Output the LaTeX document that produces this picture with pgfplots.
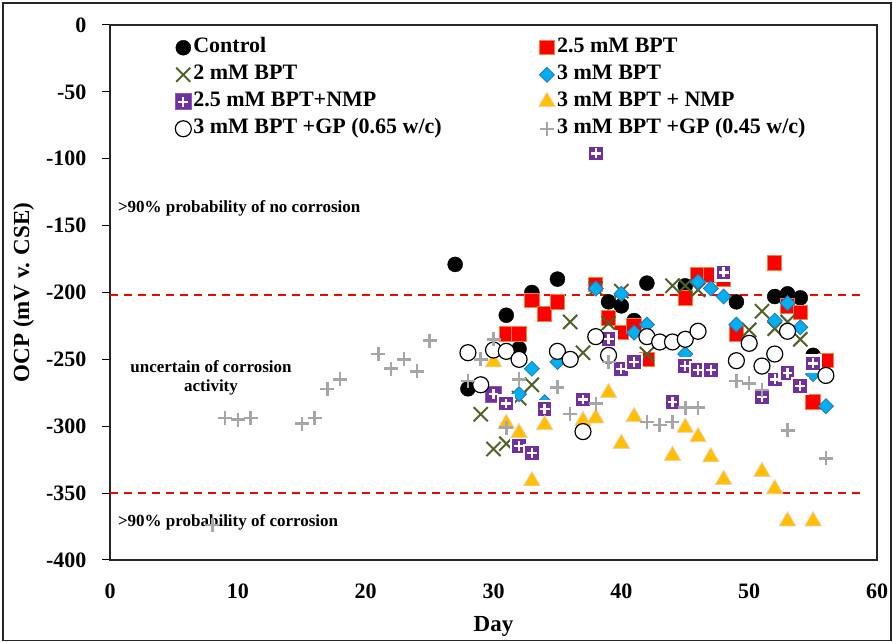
\documentclass[border=0pt]{standalone}
\usepackage{fontspec}
\setmainfont{Liberation Serif}
\usepackage{pgfplots}
\pgfplotsset{compat=1.18}
\definecolor{cred}{HTML}{FF0000}
\definecolor{credge}{HTML}{F4803C}
\definecolor{cgreen}{HTML}{4F6228}
\definecolor{cblue}{HTML}{00B0F0}
\definecolor{cblueedge}{HTML}{2E75B6}
\definecolor{cpurple}{HTML}{7030A0}
\definecolor{cpurpleedge}{HTML}{8E5AB8}
\definecolor{corange}{HTML}{FFC000}
\definecolor{corangeedge}{HTML}{F8CBAD}
\definecolor{cgray}{HTML}{A6A6A6}
\definecolor{cdash}{HTML}{FF0000}

\pgfdeclareplotmark{sqplus}{%
  \pgfsetcornersarced{\pgfqpoint{2pt}{2pt}}%
  \pgfpathrectangle{\pgfqpoint{-\pgfplotmarksize}{-\pgfplotmarksize}}{\pgfqpoint{2\pgfplotmarksize}{2\pgfplotmarksize}}%
  \pgfusepathqfillstroke
  \pgfsetcornersarced{\pgfpointorigin}%
  \pgfsetstrokecolor{white}%
  \pgfsetlinewidth{2.3pt}%
  \pgfsetbuttcap
  \pgfpathmoveto{\pgfqpoint{-0.62\pgfplotmarksize}{0pt}}%
  \pgfpathlineto{\pgfqpoint{0.62\pgfplotmarksize}{0pt}}%
  \pgfpathmoveto{\pgfqpoint{0pt}{-0.62\pgfplotmarksize}}%
  \pgfpathlineto{\pgfqpoint{0pt}{0.62\pgfplotmarksize}}%
  \pgfusepathqstroke
}

\begin{document}
\begin{tikzpicture}
\begin{axis}[
  scale only axis, width=767pt, height=535pt,
  xmin=0, xmax=60, ymin=-400, ymax=0,
  xtick={0,10,...,60}, ytick={-400,-350,...,0},
  tick pos=left, tick align=outside,
  major tick length=8pt,
  xtick style={draw=none},
  ytick style={line width=1pt, black},
  axis line style={line width=1.3pt, black!85},
  /pgf/number format/assume math mode=true,
  ticklabel style={font=\fontsize{22}{26}\selectfont\bfseries},
  yticklabel style={xshift=-12pt},
  xticklabel style={yshift=-12pt},
  xlabel={Day}, ylabel={OCP (mV v. CSE)},
  label style={font=\fontsize{23}{27}\selectfont\bfseries},
  xlabel style={at={(rel axis cs:0.5,-0.1245)}, anchor=center},
  ylabel style={at={(rel axis cs:-0.1125,0.5)}, anchor=center},
  clip=false,
  legend columns=2,
  legend style={at={(rel axis cs:0.081,0.984)}, anchor=north west, draw=none, fill=none,
    font=\fontsize{22}{26}\selectfont\bfseries,
    nodes={inner sep=2pt, text height=15pt, text depth=5pt},
    row sep=3pt,
    /tikz/every even column/.append style={column sep=95pt},
    cells={anchor=west}},
  legend image code/.code={\draw[#1] plot coordinates {(0pt,0pt)};},
]
% threshold lines
\addplot[forget plot, cdash, line width=2.2pt, dash pattern=on 8pt off 6pt] coordinates {(0,-202) (59,-202)};
\addplot[forget plot, cdash, line width=2.2pt, dash pattern=on 8pt off 6pt] coordinates {(0,-350) (59,-350)};

% Control
\addplot[only marks, mark=*, mark size=7.5pt, mark options={fill=black, draw=black}] coordinates {
(27,-179) (28,-272) (31,-217) (32,-242) (33,-200) (35,-190) (39,-207) (40,-210)
(41,-221) (42,-193) (45,-195) (49,-207) (52,-203) (53,-201) (54,-204) (55,-247)};
\addlegendentry{Control}
% 2.5 mM BPT
\addplot[only marks, mark=square*, mark size=7.2pt, mark options={fill=cred, draw=credge, line width=1pt}] coordinates {
(31,-231) (32,-231) (33,-206) (34,-216) (35,-207) (38,-194) (39,-219) (40,-230)
(41,-225) (42,-250) (45,-204) (46,-187) (47,-187) (48,-190) (49,-231) (52,-178)
(53,-210) (54,-215) (55,-282) (56,-251)};
\addlegendentry{2.5 mM BPT}
% 2 mM BPT
\addplot[only marks, mark=x, mark size=10pt, mark options={draw=cgreen, line width=2pt}] coordinates {
(29,-291) (30,-317) (31,-313) (32,-279) (33,-269) (36,-222) (37,-245) (38,-197)
(39,-223) (40,-199) (42,-246) (44,-195) (45,-195) (46,-198) (50,-228) (51,-214)
(52,-227) (53,-222) (54,-235)};
\addlegendentry{2 mM BPT}
% 3 mM BPT
\addplot[only marks, mark=square*, mark size=5.3pt, mark options={rotate=45, fill=cblue, draw=cblueedge, line width=0.8pt}] coordinates {
(32,-276) (33,-257) (34,-282) (35,-252) (38,-197) (40,-201) (41,-230) (42,-224)
(45,-246) (46,-192) (47,-197) (48,-203) (49,-224) (52,-221) (53,-208) (54,-226)
(55,-261) (56,-285)};
\addlegendentry{3 mM BPT}
% 2.5 mM BPT+NMP
\addplot[only marks, mark=sqplus, mark size=8pt, mark options={fill=cpurple, draw=cpurpleedge, line width=0.8pt}] coordinates {
(30,-276) (31,-283) (32,-315) (33,-320) (34,-287) (37,-280) (38,-96) (39,-235)
(40,-257) (41,-252) (44,-282) (45,-255) (46,-258) (47,-258) (48,-185) (51,-278)
(52,-265) (53,-260) (54,-270) (55,-253)};
\addlegendentry{2.5 mM BPT+NMP}
% 3 mM BPT + NMP
\addplot[only marks, mark=triangle*, mark size=9.5pt, mark options={fill=corange, draw=corangeedge, line width=0.8pt}] coordinates {
(30,-252) (31,-298) (32,-305) (33,-341) (34,-299) (37,-296) (38,-294) (39,-275)
(40,-313) (41,-293) (44,-322) (45,-301) (46,-308) (47,-323) (48,-340) (51,-334)
(52,-347) (53,-371) (55,-371)};
\addlegendentry{3 mM BPT + NMP}
% 3 mM BPT +GP (0.65 w/c)
\addplot[only marks, mark=*, mark size=8pt, mark options={fill=white, draw=black, line width=1.2pt}] coordinates {
(28,-245) (29,-269) (30,-243) (31,-244) (32,-250) (35,-244) (36,-250) (37,-304)
(38,-233) (39,-247) (42,-233) (43,-237) (44,-237) (45,-235) (46,-229) (49,-251)
(50,-238) (51,-255) (52,-246) (53,-229) (56,-262)};
\addlegendentry{3 mM BPT +GP (0.65 w/c)}
% 3 mM BPT +GP (0.45 w/c)
\addplot[only marks, mark=+, mark size=7pt, mark options={draw=cgray, line width=2.5pt}] coordinates {
(8,-374) (9,-294) (10,-295) (11,-294) (15,-298) (16,-294) (17,-272) (18,-265)
(21,-246) (22,-257) (23,-250) (24,-259) (25,-236) (28,-266) (29,-250) (30,-235)
(31,-301) (32,-265) (35,-271) (36,-291) (38,-283) (39,-252) (42,-297) (43,-299)
(44,-297) (45,-286) (46,-286) (49,-266) (50,-268) (51,-273) (53,-303) (56,-324)};
\addlegendentry{3 mM BPT +GP (0.45 w/c)}

% annotations
\node[anchor=west, font=\fontsize{17}{19}\selectfont\bfseries] at (axis cs:0.35,-137) {>90\% probability of no corrosion};
\node[align=center, font=\fontsize{17}{19}\selectfont\bfseries] at (axis cs:7.9,-264) {uncertain of corrosion\\activity};
\node[anchor=west, font=\fontsize{17}{19}\selectfont\bfseries] at (axis cs:0.35,-372) {>90\% probability of corrosion};

% outer frame and bounding box
\path (rel axis cs:-0.14342,-0.15140) rectangle (rel axis cs:1.02086,1.04673);
\draw[line width=1.5pt, black!85] (rel axis cs:-0.1395,-0.1505) rectangle (rel axis cs:1.0183,1.0411);
\end{axis}
\end{tikzpicture}
\end{document}
